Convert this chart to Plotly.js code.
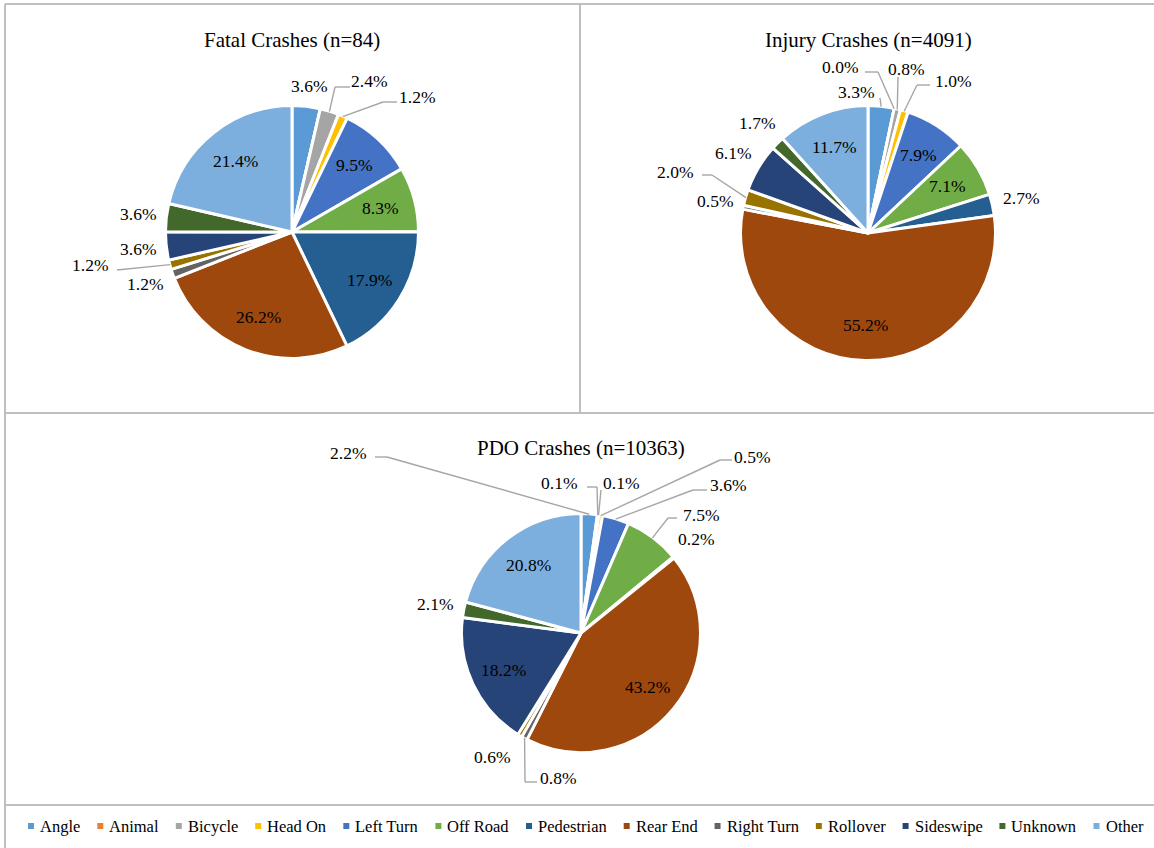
<!DOCTYPE html>
<html><head><meta charset="utf-8">
<script src="https://cdn.plot.ly/plotly-3.0.1.min.js"></script>
<style>html,body{margin:0;padding:0;background:#fff}#chart{width:1154px;height:848px}</style>
</head><body><div id="chart"></div>
<script>
// ---------- data ----------
const categories = ['Angle','Animal','Bicycle','Head On','Left Turn','Off Road','Pedestrian','Rear End','Right Turn','Rollover','Sideswipe','Unknown','Other'];
const fatalPct  = [3.6, 0,   2.4, 1.2, 9.5, 8.3, 17.9, 26.2, 1.2, 1.2, 3.6, 3.6, 21.4];
const injuryPct = [3.3, 0.0, 0.8, 1.0, 7.9, 7.1, 2.7, 55.2, 0.5, 2.0, 6.1, 1.7, 11.7];
const pdoPct    = [2.2, 0.1, 0.1, 0.5, 3.6, 7.5, 0.2, 43.2, 0.8, 0.6, 18.2, 2.1, 20.8];
const chartTitles = ['Fatal Crashes (n=84)', 'Injury Crashes (n=4091)', 'PDO Crashes (n=10363)'];

// ---------- styles / layout ----------
const colors = ['#5B9BD5','#ED7D31','#A5A5A5','#FFC000','#4472C4','#70AD47','#255E91','#9E480E','#636363','#997300','#264478','#43682B','#7CAFDD'];
const W = 1154, H = 848;
const FONT = '"Liberation Serif", "Times New Roman", serif';
const LABEL_SIZE = 17.5, TITLE_SIZE = 21, LEGEND_SIZE = 16.5;
const LEADER_COLOR = '#A6A6A6';

// placement: 'in' | 'out' | 'none' | {at:[dx,dy], path:[[dx,dy],...]} (offsets from pie centre, px)
const pieSetup = [
  {values: fatalPct, cx: 292, cy: 232, r: 125, titleY: 40,
   place: ['out','none',
     {at:[77,-151], path:[[58,-145],[43,-145]]},
     {at:[125,-135], path:[[105,-130],[91,-130]]},
     'in','in','in','in','out',
     {at:[-202,33], path:[[-175,38]]},
     'out','out','in']},
  {values: injuryPct, cx: 868, cy: 233, r: 126, titleY: 40,
   place: [
     {at:[-12,-141], path:[[12,-135]]},
     {at:[-28,-166], path:[[-3,-161],[10,-161]]},
     {at:[38,-164], path:[[30,-156]]},
     {at:[85,-152], path:[[62,-148],[49,-148]]},
     'in','in','out','in','out',
     {at:[-193,-61], path:[[-166,-58],[-156,-58]]},
     'out','out','in']},
  {values: pdoPct, cx: 581, cy: 633, r: 118, titleY: 448,
   place: [
     {at:[-233,-180], path:[[-206,-176],[-194,-176]]},
     {at:[-22,-150], path:[[6,-146],[16,-146]]},
     {at:[40,-150], path:[[20,-143]]},
     {at:[171,-176], path:[[151,-173],[139,-173]]},
     {at:[147,-148], path:[[126,-143],[112,-143]]},
     {at:[120,-118], path:[[96,-115],[87,-115]]},
     'out','in',
     {at:[-23,145], path:[[-44,149],[-56,149]]},
     {at:[-89,124], path:null},
     'in','out','in']}
];

const px = x => x / W;
const py = y => 1 - y / H;
const canvas = document.createElement('canvas');
const ctx = canvas.getContext('2d');
function textWidth(t, size) { ctx.font = size + 'px "Liberation Serif"'; return ctx.measureText(t).width; }

const traces = [];
const annotations = [];
const shapes = [];
const gridLine = {color: '#BFBFBF', width: 2};
[[5,4,1154,4],[5,4,5,848],[5,413,1154,413],[580,4,580,413],[5,805,1154,805]].forEach(s => {
  shapes.push({type:'line', xref:'paper', yref:'paper', x0:px(s[0]), y0:py(s[1]), x1:px(s[2]), y1:py(s[3]), line:gridLine, layer:'below'});
});

pieSetup.forEach((p, k) => {
  const R = p.r + 1.5;
  traces.push({
    type: 'pie', labels: categories, values: p.values, sort: false, direction: 'clockwise', rotation: 0,
    textinfo: 'none', hoverinfo: 'label+percent', showlegend: false,
    marker: {colors: colors, line: {color: '#FFFFFF', width: 3}},
    domain: {x: [px(p.cx - R), px(p.cx + R)], y: [py(p.cy + R), py(p.cy - R)]}
  });
  annotations.push({xref:'paper', yref:'paper', x: px(p.cx), y: py(p.titleY), text: chartTitles[k], showarrow:false,
    xanchor:'center', yanchor:'middle', font:{family:FONT, size:TITLE_SIZE, color:'#000'}});
  const total = p.values.reduce((a, b) => a + b, 0);
  let cum = 0;
  p.values.forEach((v, i) => {
    const th = 2 * Math.PI * (cum + v / 2) / total;
    cum += v;
    const pl = p.place[i];
    if (pl === 'none') return;
    const txt = v.toFixed(1) + '%';
    const s = Math.sin(th), c = Math.cos(th);
    let lx, ly;
    if (pl === 'in') {
      lx = p.cx + 0.73 * p.r * s; ly = p.cy - 0.73 * p.r * c;
    } else if (pl === 'out') {
      const hw = textWidth(txt, LABEL_SIZE) / 2, hh = 9;
      const d = p.r + 11 + Math.abs(s) * hw + Math.abs(c) * hh;
      lx = p.cx + d * s; ly = p.cy - d * c;
    } else {
      lx = p.cx + pl.at[0]; ly = p.cy + pl.at[1];
      if (pl.path) {
        const pts = pl.path.map(q => [p.cx + q[0], p.cy + q[1]]);
        pts.push([p.cx + (p.r + 1) * s, p.cy - (p.r + 1) * c]);
        for (let j = 0; j < pts.length - 1; j++) {
          shapes.push({type:'line', xref:'paper', yref:'paper', x0:px(pts[j][0]), y0:py(pts[j][1]), x1:px(pts[j+1][0]), y1:py(pts[j+1][1]),
            line:{color:LEADER_COLOR, width:1.4}});
        }
      }
    }
    annotations.push({xref:'paper', yref:'paper', x: px(lx), y: py(ly), text: txt, showarrow:false,
      xanchor:'center', yanchor:'middle', font:{family:FONT, size:LABEL_SIZE, color:'#000'}});
  });
});

// legend (manual, built from categories/colors)
let lxPos = 28;
const legendY = 826;
categories.forEach((name, i) => {
  shapes.push({type:'rect', xref:'paper', yref:'paper', x0:px(lxPos), x1:px(lxPos + 6), y0:py(legendY + 3), y1:py(legendY - 3),
    fillcolor: colors[i], line:{width:0}});
  annotations.push({xref:'paper', yref:'paper', x: px(lxPos + 10), y: py(legendY), text: name, showarrow:false,
    xanchor:'left', yanchor:'middle', font:{family:FONT, size:LEGEND_SIZE, color:'#000'}});
  lxPos += 10 + textWidth(name, LEGEND_SIZE) + 19;
});

const layout = {
  width: W, height: H, margin: {l:0, r:0, t:0, b:0},
  paper_bgcolor: '#FFFFFF', plot_bgcolor: '#FFFFFF',
  showlegend: false, annotations: annotations, shapes: shapes
};
Plotly.newPlot('chart', traces, layout, {displayModeBar: false, staticPlot: true});
</script>
</body></html>
